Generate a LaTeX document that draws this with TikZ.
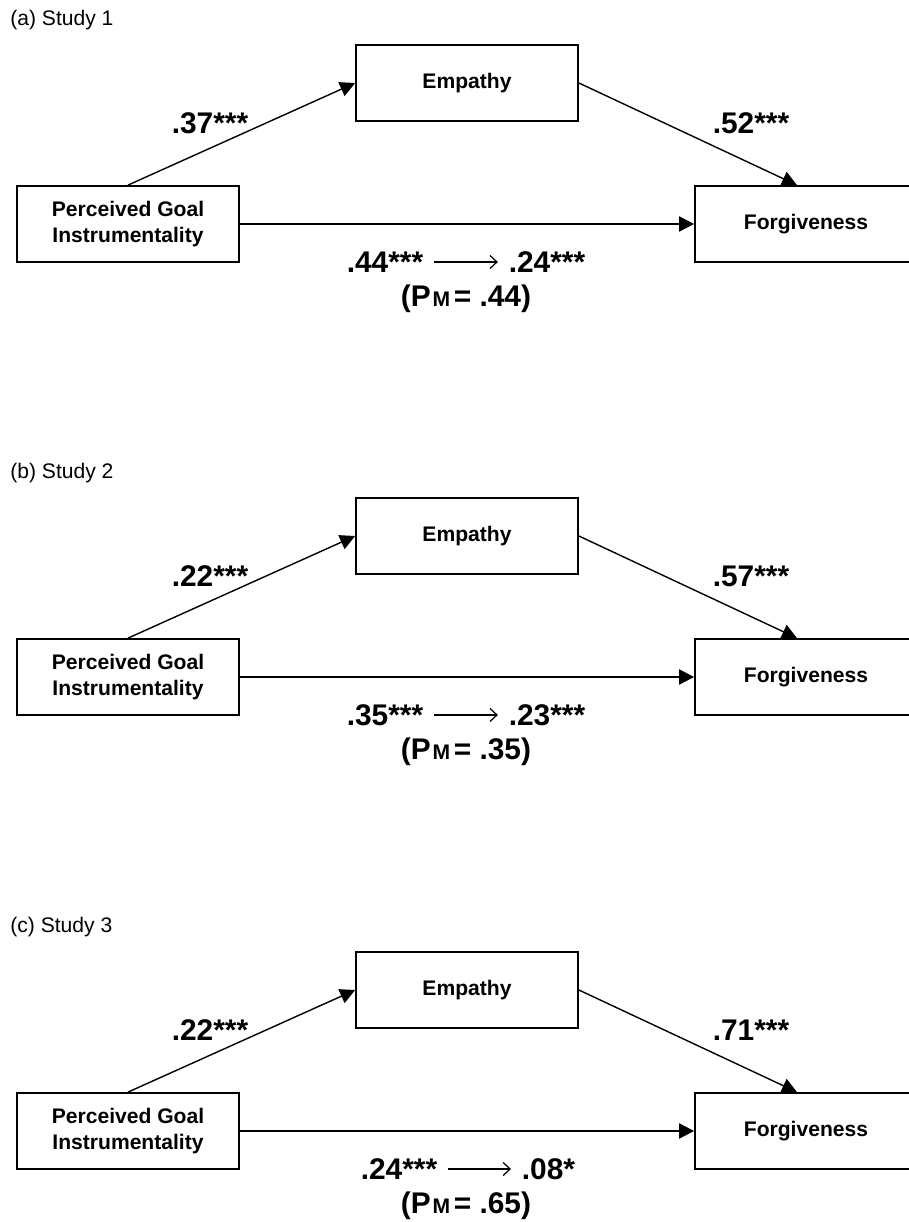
\documentclass[tikz,border=0pt]{standalone}
\usepackage{fontspec}
\setmainfont{Liberation Sans}
\usetikzlibrary{arrows.meta}

\newcommand{\pmval}[1]{(P\hspace{0.06em}{\fontsize{12}{12}\selectfont M}\hspace{0.12em}= #1)}

\begin{document}
\begin{tikzpicture}[
	var/.style={draw, line width=1pt, minimum width=4.44cm, minimum height=1.52cm, align=center, font=\fontsize{12}{14.7}\selectfont\bfseries},
	coef/.style={font=\fontsize{17}{20}\selectfont\bfseries},
	mid/.style={coef, inner sep=6pt},
	study/.style={anchor=west, inner sep=0pt, font=\fontsize{12}{14}\selectfont},
	path/.style={line width=0.8pt, -{Triangle[length=0.3cm, width=0.3cm]}},
	direct/.style={line width=1.1pt, -{Triangle[length=0.3cm, width=0.3cm]}},
	change/.style={line width=0.6pt, -{Straight Barb[length=0.14cm, width=0.26cm, line width=0.7pt]}}
]
		\clip (0, 0) rectangle (18.18, 24.44);

		% (a) Study 1
		\node [study] (0) at (0.2, 24.04) {(a) Study 1};
		\node [var] (1) at (2.56, 19.96) {Perceived Goal\\Instrumentality};
		\node [var] (2) at (9.34, 22.78) {Empathy};
		\node [var] (3) at (16.12, 19.96) {Forgiveness};
		\node [coef] (4) at (4.20, 21.98) {.37***};
		\node [coef] (5) at (15.02, 21.98) {.52***};
		\node [mid] (6) at (7.70, 19.20) {.44***};
		\node [mid] (7) at (10.94, 19.20) {.24***};
		\node [coef] (8) at (9.32, 18.46) {\pmval{.44}};
		\draw [path] (1.north) to (2.west);
		\draw [path] (2.east) to ([xshift=-0.18cm]3.north);
		\draw [direct] (1.east) to (3.west);
		\draw [change] (6.east) to (7.west);

		% (b) Study 2
		\node [study] (10) at (0.2, 14.98) {(b) Study 2};
		\node [var] (11) at (2.56, 10.90) {Perceived Goal\\Instrumentality};
		\node [var] (12) at (9.34, 13.72) {Empathy};
		\node [var] (13) at (16.12, 10.90) {Forgiveness};
		\node [coef] (14) at (4.20, 12.92) {.22***};
		\node [coef] (15) at (15.02, 12.92) {.57***};
		\node [mid] (16) at (7.70, 10.14) {.35***};
		\node [mid] (17) at (10.94, 10.14) {.23***};
		\node [coef] (18) at (9.32, 9.40) {\pmval{.35}};
		\draw [path] (11.north) to (12.west);
		\draw [path] (12.east) to ([xshift=-0.18cm]13.north);
		\draw [direct] (11.east) to (13.west);
		\draw [change] (16.east) to (17.west);

		% (c) Study 3
		\node [study] (20) at (0.2, 5.90) {(c) Study 3};
		\node [var] (21) at (2.56, 1.82) {Perceived Goal\\Instrumentality};
		\node [var] (22) at (9.34, 4.64) {Empathy};
		\node [var] (23) at (16.12, 1.82) {Forgiveness};
		\node [coef] (24) at (4.20, 3.84) {.22***};
		\node [coef] (25) at (15.02, 3.84) {.71***};
		\node [mid] (26) at (7.98, 1.06) {.24***};
		\node [mid] (27) at (10.97, 1.06) {.08*};
		\node [coef] (28) at (9.32, 0.32) {\pmval{.65}};
		\draw [path] (21.north) to (22.west);
		\draw [path] (22.east) to ([xshift=-0.18cm]23.north);
		\draw [direct] (21.east) to (23.west);
		\draw [change] (26.east) to (27.west);
\end{tikzpicture}
\end{document}
